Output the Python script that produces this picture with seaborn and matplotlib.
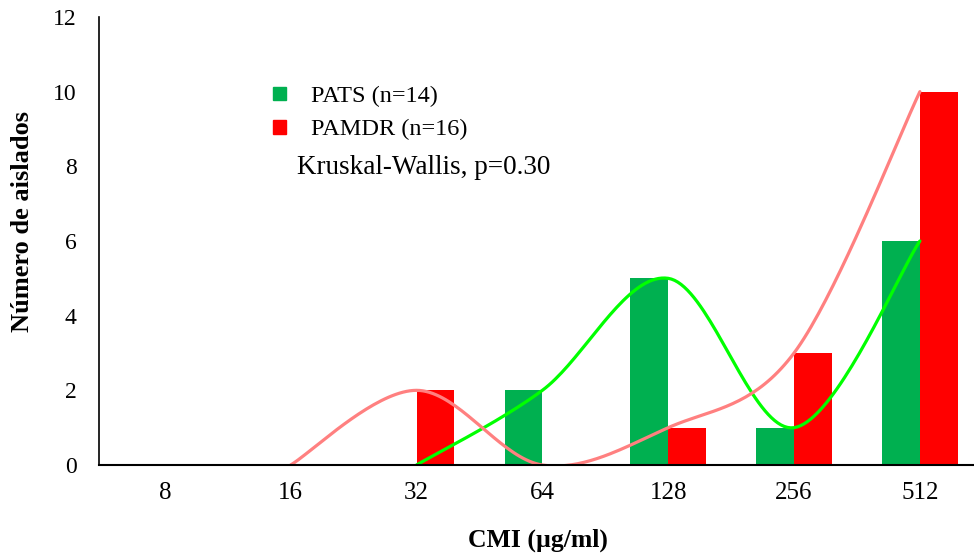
import numpy as np
import pandas as pd
import matplotlib
matplotlib.use('Agg')
import matplotlib.pyplot as plt
import seaborn as sns
from matplotlib.patches import Patch

# Data
cmi_labels = ['8', '16', '32', '64', '128', '256', '512']
pats = [0, 0, 0, 2, 5, 1, 6]
pamdr = [0, 0, 2, 0, 1, 3, 10]
# smooth trend lines start where each series starts in the original
pats_line_start = 2
pamdr_line_start = 1

green_bar = '#00B050'
red_bar = '#FF0000'
green_line = '#00FF00'
red_line = '#FF8080'

sns.set_theme(style='white')
plt.rcParams['font.family'] = ['Liberation Serif', 'DejaVu Serif']
plt.rcParams['text.color'] = 'black'

df = pd.DataFrame({
    'cmi': cmi_labels * 2,
    'n': pats + pamdr,
    'grupo': ['PATS (n=14)'] * len(pats) + ['PAMDR (n=16)'] * len(pamdr),
})

fig = plt.figure(figsize=(9.74, 5.56), dpi=100)
ax = fig.add_axes([99 / 974, 1 - 465 / 556, 1 - 99 / 974, (465 - 17) / 556])

sns.barplot(data=df, x='cmi', y='n', hue='grupo', order=cmi_labels,
            palette=[green_bar, red_bar], width=0.6, gap=0, ax=ax,
            saturation=1, legend=False, linewidth=0)


def smooth(xs, ys, steps=40):
    # Excel-like smoothed line (Catmull-Rom as cubic Bezier)
    p = np.column_stack([xs, ys]).astype(float)
    p_ext = np.vstack([p[0], p, p[-1]])
    out = []
    t = np.linspace(0, 1, steps)[:, None]
    for i in range(len(p) - 1):
        p0, p1, p2, p3 = p_ext[i], p_ext[i + 1], p_ext[i + 2], p_ext[i + 3]
        c1 = p1 + (p2 - p0) / 6
        c2 = p2 - (p3 - p1) / 6
        seg = ((1 - t) ** 3) * p1 + 3 * ((1 - t) ** 2) * t * c1 + 3 * (1 - t) * t ** 2 * c2 + t ** 3 * p2
        out.append(seg)
    out = np.vstack(out)
    return out[:, 0], out[:, 1]


x_idx = np.arange(len(cmi_labels))
sx, sy = smooth(x_idx[pats_line_start:], pats[pats_line_start:])
sns.lineplot(x=sx, y=sy, sort=False, estimator=None, color=green_line, lw=2.3, ax=ax)
sx, sy = smooth(x_idx[pamdr_line_start:], pamdr[pamdr_line_start:])
sns.lineplot(x=sx, y=sy, sort=False, estimator=None, color=red_line, lw=2.3, ax=ax)

ax.set_xlim(-0.523, 6.43)
ax.set_ylim(0, 12)
ax.set_yticks(range(0, 13, 2))
ax.tick_params(axis='y', direction='out', length=7, width=1, color='black', pad=9, labelsize=17)
ax.tick_params(axis='x', length=0, pad=12, labelsize=18)
for t in ax.get_xticklabels() + ax.get_yticklabels():
    t.set_color('black')

for s in ['top', 'right']:
    ax.spines[s].set_visible(False)
ax.spines['left'].set_color('black')
ax.spines['left'].set_linewidth(1.2)
ax.spines['bottom'].set_color('black')
ax.spines['bottom'].set_linewidth(1.5)

ax.set_xlabel('CMI (µg/ml)', fontsize=18.5, fontweight='bold', color='black', va='center')
ax.set_ylabel('Número de aislados', fontsize=19, fontweight='bold', color='black', va='center')
ax.xaxis.set_label_coords((538 - 99) / 875, -(540 - 465) / 448)
ax.yaxis.set_label_coords(-(99 - 23) / 875, (465 - 221) / 448)

handles = [Patch(color=green_bar), Patch(color=red_bar)]
leg = ax.legend(handles, ['PATS (n=14)', 'PAMDR (n=16)'], frameon=False,
                loc='upper left', bbox_to_anchor=((273 - 99) / 875, (465 - 86) / 448),
                fontsize=17.5, handlelength=0.55, handleheight=0.5, handletextpad=1.0,
                labelspacing=0.5, borderpad=0, borderaxespad=0, labelcolor='black')

ax.text((297 - 99) / 875, (465 - 167) / 448, 'Kruskal-Wallis, p=0.30', transform=ax.transAxes,
        fontsize=19.5, color='black', va='center', ha='left')

fig.savefig('out.png', dpi=100)
